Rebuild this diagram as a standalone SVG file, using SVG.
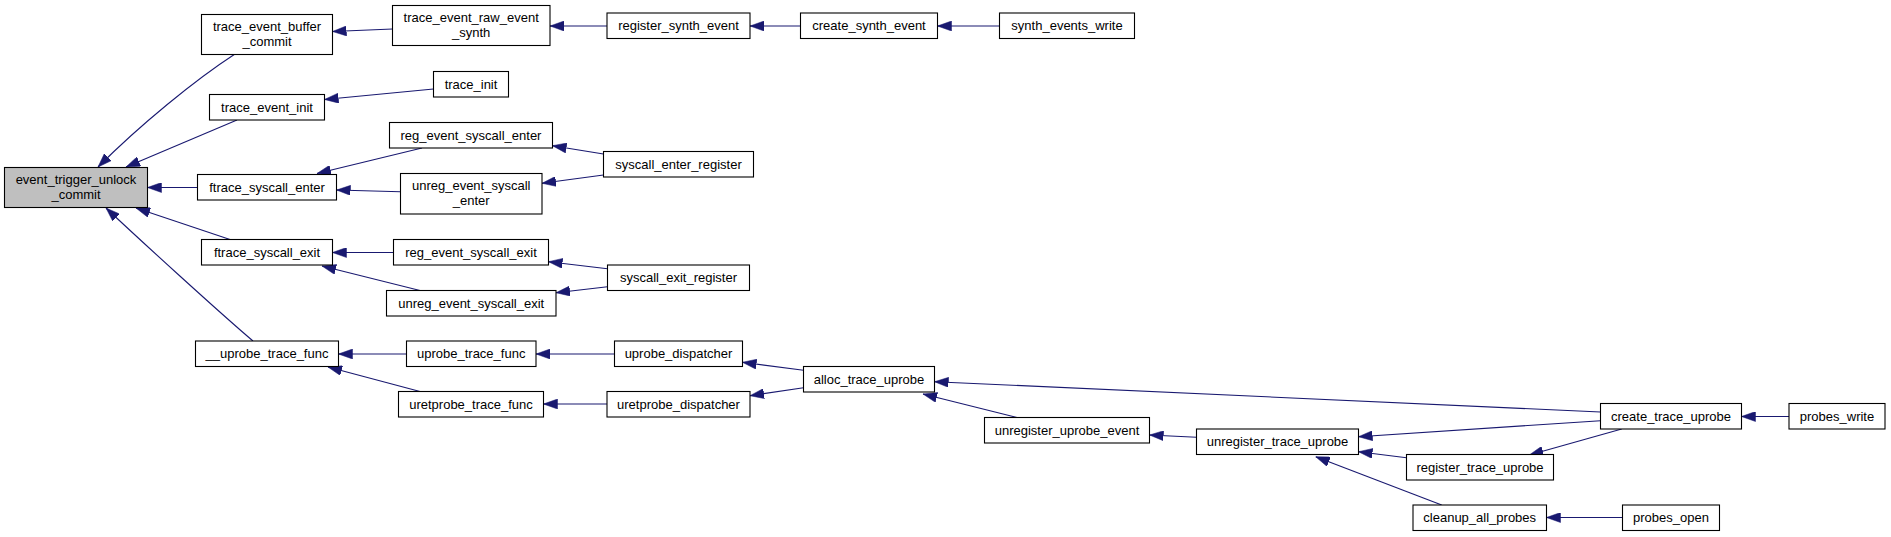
<svg xmlns="http://www.w3.org/2000/svg" width="1891" height="537" viewBox="0 0 1891 537">
<style>
  .node rect { fill: #ffffff; stroke: #000000; stroke-width: 1.1; }
  .node.root rect { fill: #bfbfbf; }
  .node text { font-family: "Liberation Sans", Arial, sans-serif; font-size: 13px; fill: #000000; text-anchor: middle; }
  .edges path { fill: none; stroke: #191970; stroke-width: 1.1; marker-end: url(#arrow); }
</style>
<defs>
  <marker id="arrow" markerUnits="userSpaceOnUse" markerWidth="14" markerHeight="10" viewBox="0 0 14 10" refX="14" refY="5" orient="auto">
    <path d="M0,0 L14,5 L0,10 z" fill="#191970" stroke="#191970" stroke-width="0.5"/>
  </marker>
</defs>
<rect x="0" y="0" width="1891" height="537" fill="#ffffff"/>
<g id="edges" class="edges">
  <path d="M235,54 C195,80 140,125 98,167"/>
  <path d="M237,120 L126,167"/>
  <path d="M198,187.5 L147.5,187.5"/>
  <path d="M230,239.5 L136,208"/>
  <path d="M253,341 C220,313 140,240 106,208"/>
  <path d="M392.5,29 L332.5,31.5"/>
  <path d="M433.5,89 L324.5,99.5"/>
  <path d="M422,148 L317,173.5"/>
  <path d="M400.5,191.7 L336.5,190"/>
  <path d="M603.5,154 L552.5,145.7"/>
  <path d="M603.5,175 L542,183.3"/>
  <path d="M393.5,252.5 L332.5,252.5"/>
  <path d="M420,290.5 L322,266"/>
  <path d="M607.5,268.7 L548.5,261.7"/>
  <path d="M607.5,286.7 L556,292.7"/>
  <path d="M406.5,354 L338.5,354"/>
  <path d="M420,391.5 L328,367"/>
  <path d="M614.5,354 L536,354"/>
  <path d="M607,404 L543.5,404"/>
  <path d="M803.5,370.3 L742.5,362.3"/>
  <path d="M803.5,387.7 L750,395.7"/>
  <path d="M1017,417.5 L923,394"/>
  <path d="M1600.5,412 L934.5,381.7"/>
  <path d="M1196.5,437.3 L1149.5,435"/>
  <path d="M1600.5,420.7 L1358.5,436.7"/>
  <path d="M1406.5,457.7 L1358.5,451.7"/>
  <path d="M1441.7,505 L1315.7,456.7"/>
  <path d="M1621.7,429 L1529.3,455"/>
  <path d="M1789,416.5 L1741.5,416.5"/>
  <path d="M1622.5,517.5 L1546.5,517.5"/>
  <path d="M607,26 L550,26"/>
  <path d="M800.5,26 L750,26"/>
  <path d="M999.5,26 L937.5,26"/>
</g>
<g id="n_root" class="node root"><rect x="4.5" y="167.5" width="143" height="40"/><text x="76" y="184">event_trigger_unlock</text><text x="76" y="198.5">_commit</text></g>
<g id="n_trace_event_buffer_commit" class="node"><rect x="201.5" y="14.5" width="131" height="40"/><text x="267" y="31">trace_event_buffer</text><text x="267" y="45.5">_commit</text></g>
<g id="n_trace_event_init" class="node"><rect x="209.5" y="94.5" width="115" height="25.5"/><text x="267" y="111.7">trace_event_init</text></g>
<g id="n_ftrace_syscall_enter" class="node"><rect x="197.5" y="174.5" width="139" height="25.5"/><text x="267" y="191.7">ftrace_syscall_enter</text></g>
<g id="n_ftrace_syscall_exit" class="node"><rect x="201.5" y="239.5" width="131" height="25.5"/><text x="267" y="256.7">ftrace_syscall_exit</text></g>
<g id="n_uprobe_trace_func_internal" class="node"><rect x="195.5" y="341" width="143" height="25.5"/><text x="267" y="358.2">__uprobe_trace_func</text></g>
<g id="n_trace_event_raw_event_synth" class="node"><rect x="392.5" y="5.5" width="157.5" height="40"/><text x="471.2" y="22">trace_event_raw_event</text><text x="471.2" y="36.5">_synth</text></g>
<g id="n_trace_init" class="node"><rect x="433.5" y="71.5" width="75" height="25.5"/><text x="471" y="88.7">trace_init</text></g>
<g id="n_reg_event_syscall_enter" class="node"><rect x="389.5" y="122.5" width="163" height="25.5"/><text x="471" y="139.7">reg_event_syscall_enter</text></g>
<g id="n_unreg_event_syscall_enter" class="node"><rect x="400.5" y="173.5" width="141.5" height="40.5"/><text x="471.2" y="190">unreg_event_syscall</text><text x="471.2" y="204.5">_enter</text></g>
<g id="n_reg_event_syscall_exit" class="node"><rect x="393.5" y="239.5" width="155" height="25.5"/><text x="471" y="256.7">reg_event_syscall_exit</text></g>
<g id="n_unreg_event_syscall_exit" class="node"><rect x="386.5" y="290.5" width="169.5" height="25.5"/><text x="471.2" y="307.7">unreg_event_syscall_exit</text></g>
<g id="n_uprobe_trace_func" class="node"><rect x="406.5" y="341" width="129.5" height="25.5"/><text x="471.2" y="358.2">uprobe_trace_func</text></g>
<g id="n_uretprobe_trace_func" class="node"><rect x="398.5" y="391.5" width="145" height="25.5"/><text x="471" y="408.7">uretprobe_trace_func</text></g>
<g id="n_register_synth_event" class="node"><rect x="607" y="13" width="143" height="25.5"/><text x="678.5" y="30.2">register_synth_event</text></g>
<g id="n_create_synth_event" class="node"><rect x="800.5" y="13" width="137" height="25.5"/><text x="869" y="30.2">create_synth_event</text></g>
<g id="n_synth_events_write" class="node"><rect x="999.5" y="13" width="135" height="25.5"/><text x="1067" y="30.2">synth_events_write</text></g>
<g id="n_syscall_enter_register" class="node"><rect x="603.5" y="151.5" width="150" height="25.5"/><text x="678.5" y="168.7">syscall_enter_register</text></g>
<g id="n_syscall_exit_register" class="node"><rect x="607.5" y="265" width="142" height="25.5"/><text x="678.5" y="282.2">syscall_exit_register</text></g>
<g id="n_uprobe_dispatcher" class="node"><rect x="614.5" y="341" width="128" height="25.5"/><text x="678.5" y="358.2">uprobe_dispatcher</text></g>
<g id="n_uretprobe_dispatcher" class="node"><rect x="607" y="391.5" width="143" height="25.5"/><text x="678.5" y="408.7">uretprobe_dispatcher</text></g>
<g id="n_alloc_trace_uprobe" class="node"><rect x="803.5" y="366.5" width="131" height="25.5"/><text x="869" y="383.7">alloc_trace_uprobe</text></g>
<g id="n_unregister_uprobe_event" class="node"><rect x="984.5" y="417.5" width="165" height="25.5"/><text x="1067" y="434.7">unregister_uprobe_event</text></g>
<g id="n_unregister_trace_uprobe" class="node"><rect x="1196.5" y="429" width="162" height="25.5"/><text x="1277.5" y="446.2">unregister_trace_uprobe</text></g>
<g id="n_register_trace_uprobe" class="node"><rect x="1406.5" y="454.5" width="147" height="25.5"/><text x="1480" y="471.7">register_trace_uprobe</text></g>
<g id="n_cleanup_all_probes" class="node"><rect x="1413" y="505" width="133.5" height="25.5"/><text x="1479.7" y="522.2">cleanup_all_probes</text></g>
<g id="n_create_trace_uprobe" class="node"><rect x="1600.5" y="403.5" width="141" height="25.5"/><text x="1671" y="420.7">create_trace_uprobe</text></g>
<g id="n_probes_write" class="node"><rect x="1789" y="403.5" width="96" height="25.5"/><text x="1837" y="420.7">probes_write</text></g>
<g id="n_probes_open" class="node"><rect x="1622.5" y="505" width="97" height="25.5"/><text x="1671" y="522.2">probes_open</text></g>
</svg>
